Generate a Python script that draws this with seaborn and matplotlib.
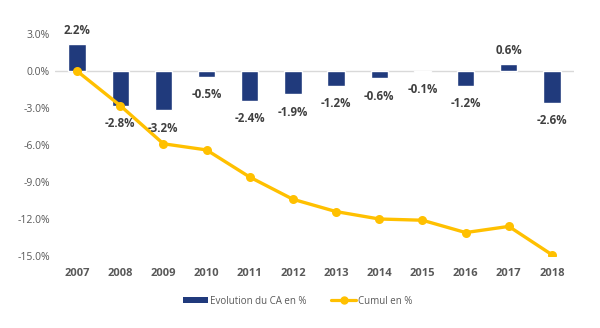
import numpy as np
import pandas as pd
import matplotlib
matplotlib.use("Agg")
import matplotlib.pyplot as plt
import seaborn as sns
from matplotlib.lines import Line2D
from matplotlib.patches import Patch

years = ["2007", "2008", "2009", "2010", "2011", "2012", "2013", "2014", "2015", "2016", "2017", "2018"]
evolution = [2.2, -2.8, -3.2, -0.5, -2.4, -1.9, -1.2, -0.6, -0.1, -1.2, 0.6, -2.6]
cumul = [0.0, -2.8, -5.9, -6.4, -8.6, -10.4, -11.4, -12.0, -12.1, -13.1, -12.6, -14.9]
yticks = [3, 0, -3, -6, -9, -12, -15]

bar_color = "#203A7C"
line_color = "#FFC000"
text_color = "#595959"

sns.set_theme(style="white")
plt.rcParams["font.family"] = ["Open Sans", "DejaVu Sans"]

fig = plt.figure(figsize=(6, 3.28), dpi=100)
ax = fig.add_axes([55.4 / 600, 1 - 256 / 328, (573.6 - 55.4) / 600, (256 - 34) / 328])

df = pd.DataFrame({"year": years, "evol": evolution, "cumul": cumul})
sns.barplot(data=df, x="year", y="evol", color=bar_color, width=0.4, ax=ax,
            saturation=1, zorder=2)
sns.lineplot(x=np.arange(len(years)), y=cumul, ax=ax, color=line_color, lw=2.4,
             marker="o", markersize=6.5, markeredgewidth=0, zorder=3)

ax.axhline(0, color="#D9D9D9", lw=1, zorder=1)
ax.set_xlim(-0.5, len(years) - 0.5)
ax.set_ylim(-15, 3)
ax.set_yticks(yticks)
ax.set_yticklabels([f"{v:.1f}%" for v in yticks], color=text_color, fontsize=7.5)
ax.set_xticks(range(len(years)))
ax.set_xticklabels(years, color=text_color, fontsize=8, fontweight="bold")
ax.tick_params(axis="both", length=0, pad=4)
ax.tick_params(axis="x", pad=9)
ax.set_xlabel("")
ax.set_ylabel("")
for s in ax.spines.values():
    s.set_visible(False)

for i, v in enumerate(evolution):
    if v >= 0:
        ax.annotate(f"{v:.1f}%", (i, v), xytext=(0, 5), textcoords="offset points",
                    ha="center", va="bottom", fontsize=8.3, fontweight="bold",
                    color="#404040", annotation_clip=False)
    else:
        ax.annotate(f"{v:.1f}%", (i, v), xytext=(0, -8), textcoords="offset points",
                    ha="center", va="top", fontsize=8.3, fontweight="bold",
                    color="#404040", annotation_clip=False)

handles = [Patch(facecolor=bar_color, edgecolor="none"),
           Line2D([0], [0], color=line_color, lw=2.3, marker="o", markersize=5)]
leg = fig.legend(handles, ["Evolution du CA en %", "Cumul en %"], loc="center",
                 bbox_to_anchor=(298 / 600, 1 - 301 / 328), ncol=2, frameon=False,
                 fontsize=7, handlelength=2.6, handleheight=0.6, columnspacing=2.5,
                 handletextpad=0.2)
for t in leg.get_texts():
    t.set_color(text_color)

fig.savefig("out.png", dpi=100)
